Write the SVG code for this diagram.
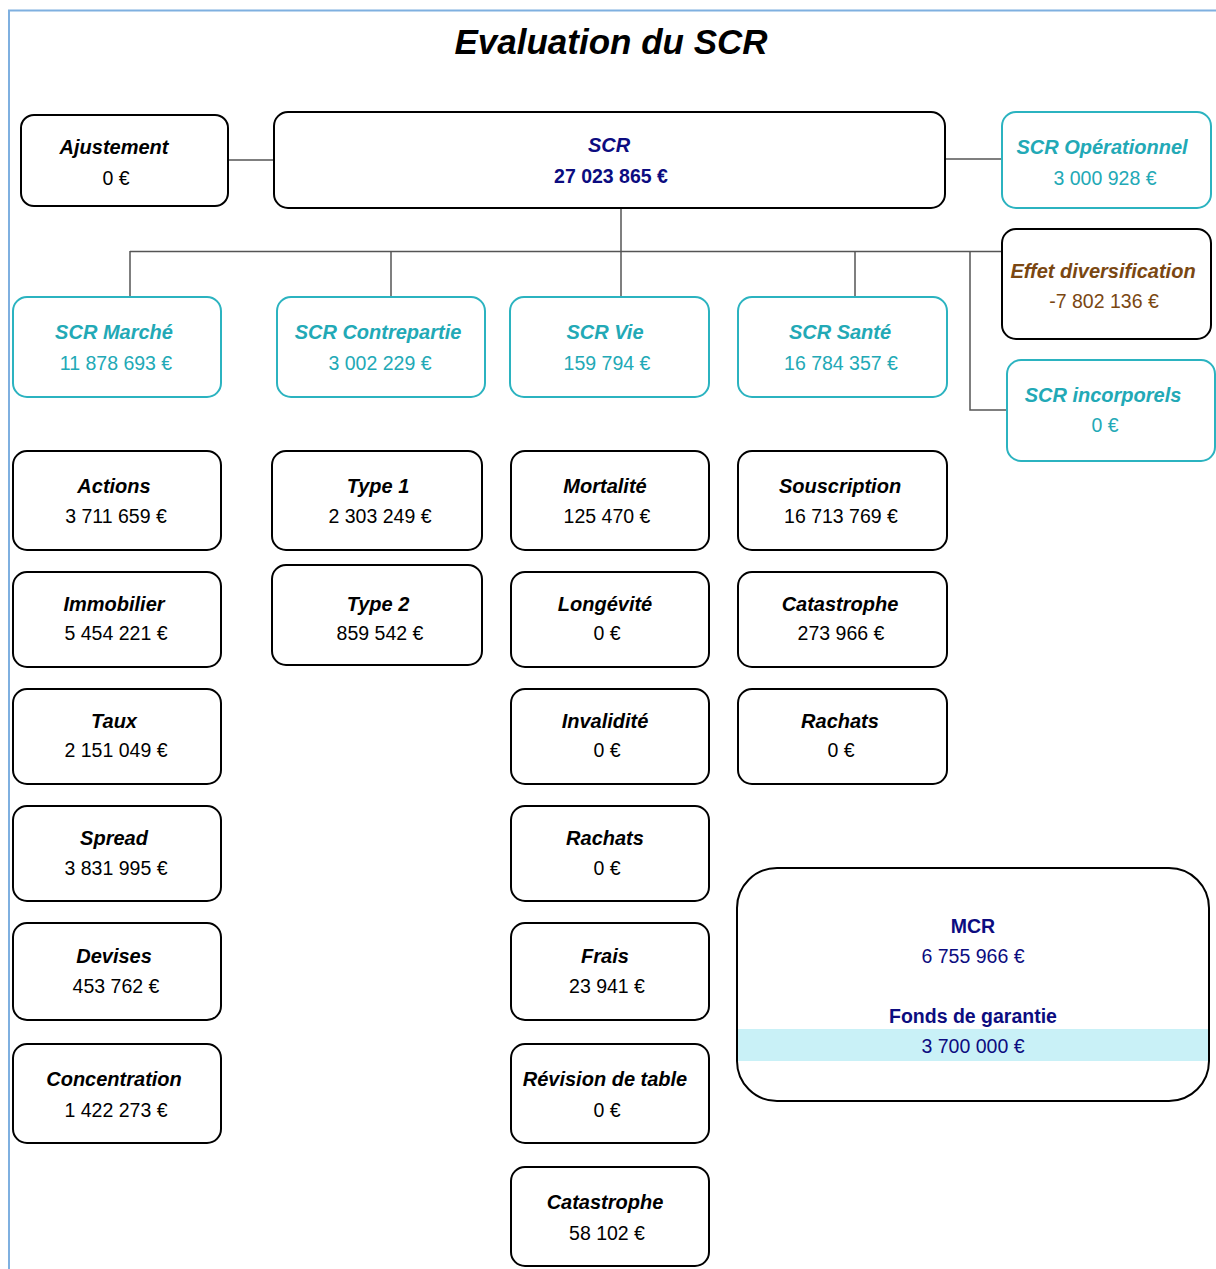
<svg xmlns="http://www.w3.org/2000/svg" width="1216" height="1269" viewBox="0 0 1216 1269">
<style>
  .box { fill: #ffffff; stroke: #000000; stroke-width: 2; }
  .tbox { fill: #ffffff; stroke: #2bb3c0; stroke-width: 2; }
  .lbl { font-family: "Liberation Sans", Arial, sans-serif; font-size: 20px; font-weight: bold; font-style: italic; text-anchor: middle; fill: #000000; }
  .val { font-family: "Liberation Sans", Arial, sans-serif; font-size: 19.5px; text-anchor: middle; fill: #000000; }
  .teal { fill: #22a9b6; }
  .navy { fill: #0c0c80; }
  .brown { fill: #7a4712; }
  .conn { stroke: #555555; stroke-width: 1.5; fill: none; }
  .frame { stroke: #7fb0e0; stroke-width: 2; fill: none; }
</style>
<rect x="0" y="0" width="1216" height="1269" fill="#ffffff"/>
<path class="frame" d="M9,1269 V10.5 H1216"/>
<text x="611" y="54" font-family="Liberation Sans, Arial, sans-serif" font-size="35" font-weight="bold" font-style="italic" text-anchor="middle" fill="#000000">Evaluation du SCR</text>

<g id="connectors">
  <line class="conn" x1="228" y1="160" x2="274" y2="160"/>
  <line class="conn" x1="945" y1="159" x2="1002" y2="159"/>
  <line class="conn" x1="621" y1="208" x2="621" y2="297" stroke="#000"/>
  <line class="conn" x1="130" y1="251.5" x2="1002" y2="251.5"/>
  <line class="conn" x1="130" y1="251" x2="130" y2="297"/>
  <line class="conn" x1="391" y1="251" x2="391" y2="297"/>
  <line class="conn" x1="855" y1="251" x2="855" y2="297"/>
  <path class="conn" d="M970,251 V410 H1007"/>
</g>

<g id="ajustement"><rect class="box" x="21" y="115" width="207" height="91" rx="13"/>
  <text class="lbl" x="114" y="154">Ajustement</text><text class="val" x="116" y="185">0 €</text></g>
<g id="scr"><rect class="box" x="274" y="112" width="671" height="96" rx="14"/>
  <text class="lbl navy" x="609" y="152">SCR</text><text class="val navy" x="611" y="183" font-weight="bold">27 023 865 €</text></g>
<g id="scr-operationnel"><rect class="tbox" x="1002" y="112" width="209" height="96" rx="14"/>
  <text class="lbl teal" x="1102" y="154">SCR Opérationnel</text><text class="val teal" x="1105" y="185">3 000 928 €</text></g>
<g id="effet-diversification"><rect class="box" x="1002" y="229" width="209" height="110" rx="14"/>
  <text class="lbl brown" x="1103" y="278">Effet diversification</text><text class="val brown" x="1104" y="308">-7 802 136 €</text></g>
<g id="scr-incorporels"><rect class="tbox" x="1007" y="360" width="208" height="101" rx="14"/>
  <text class="lbl teal" x="1103" y="402">SCR incorporels</text><text class="val teal" x="1105" y="432">0 €</text></g>

<g id="scr-marche"><rect class="tbox" x="13" y="297" width="208" height="100" rx="14"/>
  <text class="lbl teal" x="114" y="339">SCR Marché</text><text class="val teal" x="116" y="370">11 878 693 €</text></g>
<g id="scr-contrepartie"><rect class="tbox" x="277" y="297" width="208" height="100" rx="14"/>
  <text class="lbl teal" x="378" y="339">SCR Contrepartie</text><text class="val teal" x="380" y="370">3 002 229 €</text></g>
<g id="scr-vie"><rect class="tbox" x="510" y="297" width="199" height="100" rx="14"/>
  <text class="lbl teal" x="605" y="339">SCR Vie</text><text class="val teal" x="607" y="370">159 794 €</text></g>
<g id="scr-sante"><rect class="tbox" x="738" y="297" width="209" height="100" rx="14"/>
  <text class="lbl teal" x="840" y="339">SCR Santé</text><text class="val teal" x="841" y="370">16 784 357 €</text></g>

<g id="actions"><rect class="box" x="13" y="451" width="208" height="99" rx="14"/>
  <text class="lbl" x="114" y="493">Actions</text><text class="val" x="116" y="523">3 711 659 €</text></g>
<g id="immobilier"><rect class="box" x="13" y="572" width="208" height="95" rx="14"/>
  <text class="lbl" x="114" y="611">Immobilier</text><text class="val" x="116" y="640">5 454 221 €</text></g>
<g id="taux"><rect class="box" x="13" y="689" width="208" height="95" rx="14"/>
  <text class="lbl" x="114" y="728">Taux</text><text class="val" x="116" y="757">2 151 049 €</text></g>
<g id="spread"><rect class="box" x="13" y="806" width="208" height="95" rx="14"/>
  <text class="lbl" x="114" y="845">Spread</text><text class="val" x="116" y="875">3 831 995 €</text></g>
<g id="devises"><rect class="box" x="13" y="923" width="208" height="97" rx="14"/>
  <text class="lbl" x="114" y="963">Devises</text><text class="val" x="116" y="993">453 762 €</text></g>
<g id="concentration"><rect class="box" x="13" y="1044" width="208" height="99" rx="14"/>
  <text class="lbl" x="114" y="1086">Concentration</text><text class="val" x="116" y="1117">1 422 273 €</text></g>

<g id="type1"><rect class="box" x="272" y="451" width="210" height="99" rx="14"/>
  <text class="lbl" x="378" y="493">Type 1</text><text class="val" x="380" y="523">2 303 249 €</text></g>
<g id="type2"><rect class="box" x="272" y="565" width="210" height="100" rx="14"/>
  <text class="lbl" x="378" y="611">Type 2</text><text class="val" x="380" y="640">859 542 €</text></g>

<g id="mortalite"><rect class="box" x="511" y="451" width="198" height="99" rx="14"/>
  <text class="lbl" x="605" y="493">Mortalité</text><text class="val" x="607" y="523">125 470 €</text></g>
<g id="longevite"><rect class="box" x="511" y="572" width="198" height="95" rx="14"/>
  <text class="lbl" x="605" y="611">Longévité</text><text class="val" x="607" y="640">0 €</text></g>
<g id="invalidite"><rect class="box" x="511" y="689" width="198" height="95" rx="14"/>
  <text class="lbl" x="605" y="728">Invalidité</text><text class="val" x="607" y="757">0 €</text></g>
<g id="rachats-vie"><rect class="box" x="511" y="806" width="198" height="95" rx="14"/>
  <text class="lbl" x="605" y="845">Rachats</text><text class="val" x="607" y="875">0 €</text></g>
<g id="frais"><rect class="box" x="511" y="923" width="198" height="97" rx="14"/>
  <text class="lbl" x="605" y="963">Frais</text><text class="val" x="607" y="993">23 941 €</text></g>
<g id="revision-table"><rect class="box" x="511" y="1044" width="198" height="99" rx="14"/>
  <text class="lbl" x="605" y="1086">Révision de table</text><text class="val" x="607" y="1117">0 €</text></g>
<g id="catastrophe-vie"><rect class="box" x="511" y="1167" width="198" height="99" rx="14"/>
  <text class="lbl" x="605" y="1209">Catastrophe</text><text class="val" x="607" y="1240">58 102 €</text></g>

<g id="souscription"><rect class="box" x="738" y="451" width="209" height="99" rx="14"/>
  <text class="lbl" x="840" y="493">Souscription</text><text class="val" x="841" y="523">16 713 769 €</text></g>
<g id="catastrophe-sante"><rect class="box" x="738" y="572" width="209" height="95" rx="14"/>
  <text class="lbl" x="840" y="611">Catastrophe</text><text class="val" x="841" y="640">273 966 €</text></g>
<g id="rachats-sante"><rect class="box" x="738" y="689" width="209" height="95" rx="14"/>
  <text class="lbl" x="840" y="728">Rachats</text><text class="val" x="841" y="757">0 €</text></g>

<g id="mcr">
  <rect class="box" x="737" y="868" width="472" height="233" rx="40"/>
  <rect x="738" y="1029" width="470" height="32" fill="#c9f1f7"/>
  <text class="val navy" x="973" y="933" font-weight="bold">MCR</text>
  <text class="val navy" x="973" y="963">6 755 966 €</text>
  <text class="val navy" x="973" y="1023" font-weight="bold">Fonds de garantie</text>
  <text class="val navy" x="973" y="1053">3 700 000 €</text>
</g>
</svg>
